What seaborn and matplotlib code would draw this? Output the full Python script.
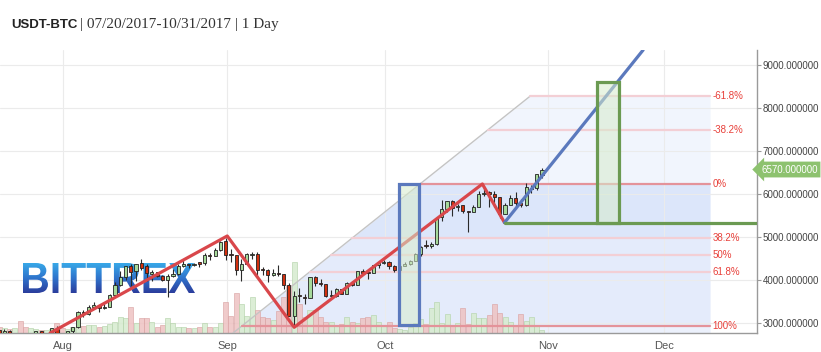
import numpy as np
import pandas as pd
import seaborn as sns
import matplotlib
matplotlib.use('Agg')
import matplotlib.pyplot as plt
from matplotlib.patches import Rectangle, PathPatch
from matplotlib.textpath import TextPath
from matplotlib.font_manager import FontProperties
from matplotlib.transforms import Affine2D, offset_copy
from matplotlib.colors import LinearSegmentedColormap

# daily candles, one per day (first candle = day 0)
opens = [2838, 2668, 2808, 2733, 2757, 2577, 2539, 2680, 2807, 2724, 2763,
         2871, 2727, 2709, 2807, 2898, 3257, 3212, 3370, 3420, 3342, 3374, 3650, 3880, 4067, 4327,
         4201, 4384, 4325, 4137, 4189, 4090, 3998, 4089, 4137, 4332, 4372, 4345, 4384, 4390, 4570, 4555,
         4701, 4901, 4585, 4591, 4229, 4376, 4590, 4605, 4229, 4229, 4122, 4168, 4131, 3875, 3166,
         3637, 3606, 3591, 4073, 3916, 3901, 3628, 3629, 3796, 3681, 3929, 3892, 4211, 4171, 4167,
         4342, 4395, 4408, 4320, 4229, 4324, 4370, 4442, 4615, 4790, 4789, 4830, 5464, 5643, 5836,
         5687, 5742, 5603, 5583, 5709, 5996, 6037, 6006, 5935, 5524, 5747, 5900, 5787, 5755, 6115, 6132,
         6440]
highs = [2838, 2862, 2832, 2777, 2769, 2611, 2693, 2819, 2808, 2758, 2889,
         2921, 2762, 2813, 2897, 3290, 3306, 3428, 3485, 3422, 3453, 3679, 3949, 4208, 4326, 4372,
         4382, 4484, 4372, 4243, 4196, 4109, 4128, 4255, 4371, 4455, 4379, 4400, 4394, 4625, 4626, 4736,
         4900, 4976, 4715, 4591, 4484, 4617, 4655, 4661, 4308, 4245, 4261, 4344, 4131, 3921, 3733,
         3808, 3664, 4079, 4094, 4031, 3916, 3758, 3819, 3796, 3950, 3969, 4210, 4258, 4214, 4358,
         4403, 4470, 4432, 4350, 4362, 4413, 4455, 4627, 4789, 4920, 4873, 5446, 5856, 5837, 5852,
         5776, 5745, 5603, 5744, 6060, 6194, 6076, 6075, 5935, 5798, 5971, 6048, 5887, 6255, 6214, 6470,
         6600]
lows = [2621, 2657, 2653, 2699, 2481, 2450, 2529, 2673, 2692, 2645, 2720,
        2686, 2668, 2700, 2768, 2874, 3147, 3183, 3345, 3247, 3319, 3372, 3613, 3858, 3989, 3856,
        3988, 4243, 3980, 3970, 4069, 3988, 3600, 4078, 4123, 4307, 4269, 4332, 4294, 4352, 4471, 4550,
        4678, 4469, 4410, 4108, 3976, 4376, 4491, 4075, 4114, 3951, 4099, 4085, 3789, 3153, 2946,
        3487, 3445, 3591, 3868, 3857, 3613, 3554, 3594, 3666, 3681, 3869, 3892, 4139, 4030, 4165,
        4269, 4378, 4258, 4180, 4209, 4320, 4350, 4442, 4558, 4745, 4751, 4822, 5380, 5579, 5478,
        5608, 5562, 5109, 5583, 5709, 5949, 5690, 5688, 5452, 5524, 5747, 5722, 5698, 5723, 6030, 6104,
        6378]
closes = [2667, 2810, 2730, 2754, 2576, 2529, 2671, 2809, 2726, 2757, 2875,
          2718, 2711, 2805, 2896, 3252, 3213, 3378, 3419, 3342, 3381, 3651, 3884, 4073, 4326, 4181,
          4377, 4276, 4160, 4193, 4088, 4001, 4101, 4151, 4334, 4371, 4353, 4382, 4382, 4579, 4565, 4703,
          4892, 4578, 4582, 4236, 4376, 4597, 4599, 4229, 4226, 4122, 4161, 4130, 3882, 3155, 3637,
          3625, 3582, 4065, 3924, 3905, 3631, 3630, 3792, 3682, 3926, 3892, 4200, 4174, 4163, 4338,
          4403, 4409, 4318, 4229, 4328, 4371, 4439, 4611, 4773, 4781, 4826, 5446, 5647, 5831, 5679,
          5725, 5605, 5590, 5708, 6011, 6031, 6008, 5930, 5526, 5750, 5904, 5780, 5753, 6153, 6130, 6468,
          6570]
volumes = [6, 5, 4, 5, 12, 6, 5, 4, 3, 3, 4, 10, 5, 4, 6, 7, 7, 8, 8, 6,
           7, 9, 11, 16, 15, 26, 10, 15, 15, 11, 6, 8, 15, 10, 6, 6, 5, 5, 6, 10,
           6, 6, 10, 31, 17, 40, 29, 17, 36, 23, 16, 15, 13, 22, 36, 48, 71, 29, 16, 23,
           23, 16, 11, 11, 8, 9, 16, 11, 10, 15, 16, 18, 11, 8, 11, 5, 4, 3, 6, 10,
           14, 9, 25, 31, 10, 19, 8, 10, 25, 9, 20, 15, 15, 18, 29, 20, 16, 11, 8, 19,
           12, 16, 8, 3]
vol_axis_max = 283

month_ticks = [12.15, 43.3, 73.2, 104.2, 126.1]
month_labels = ['Aug', 'Sep', 'Oct', 'Nov', 'Dec']
price_ticks = [3000, 4000, 5000, 6000, 7000, 8000, 9000]
last_price = 6570

# drawing tools (day, price anchors)
zig_days = [9.7, 43.3, 56.0, 91.7, 95.9]
zig_prices = [2767, 5024, 2900, 6233, 5335]
trend_days = [95.9, 122.2]
trend_prices = [5335, 9350]
support_price = 5335
fib_top, fib_bottom = 6233, 2930
fib_ratios = [-0.618, -0.382, 0, 0.382, 0.5, 0.618, 1]
fib_labels = ['-61.8%', '-38.2%', '0%', '38.2%', '50%', '61.8%', '100%']
diag_days = [44.4, 100.8]
diag_prices = [2767, 8280]
fib_right = 134.9
blue_box_days = [75.9, 79.7]
blue_box_prices = [2953, 6233]
green_box_days = [113.5, 117.6]
green_box_prices = [5335, 8605]

df = pd.DataFrame({'open': opens, 'high': highs, 'low': lows, 'close': closes, 'volume': volumes})
df['day'] = np.arange(len(df))
df['up'] = df['close'] >= df['open']

sns.set_style('white')
plt.rcParams['font.family'] = ['Liberation Sans', 'DejaVu Sans']

fig = plt.figure(figsize=(8.21, 3.52), dpi=100)
ax = fig.add_axes([0, 19 / 352, 757 / 821, 283 / 352])
x_lo, x_hi = 0.19, 143.8
y_lo, y_hi = 2767, 9350
ax.set_xlim(x_lo, x_hi)
ax.set_ylim(y_lo, y_hi)

# fibonacci shaded area
def diag_x(v):
    return diag_days[0] + (v - diag_prices[0]) / (diag_prices[1] - diag_prices[0]) * (diag_days[1] - diag_days[0])

levels = [fib_top - r * (fib_top - fib_bottom) for r in fib_ratios]
bands = [(fib_top, levels[0], '#f1f5fd'), (levels[3], fib_top, '#dce6fa'),
         (fib_bottom, levels[3], '#e4ebfb'), (y_lo, fib_bottom, '#ecf1fc')]
for a, b, c in bands:
    ax.fill_betweenx([a, b], [diag_x(a), diag_x(b)], fib_right, color=c, lw=0, zorder=0.2)
ax.plot(diag_days, diag_prices, color='#c4c4c4', lw=1, zorder=3)

# volume bars
vol_scale = (y_hi - y_lo) / vol_axis_max
ax.bar(df['day'], df['volume'] * vol_scale, bottom=y_lo, width=0.95,
       color=np.where(df['up'], '#d6ebcf', '#eec2c2'),
       edgecolor=np.where(df['up'], '#b3d2a8', '#d9a2a2'), lw=0.5, alpha=0.85, zorder=2)

# fib level lines and labels
for lv, lab, r in zip(levels, fib_labels, fib_ratios):
    strong = r in (0, 1)
    ax.plot([diag_x(lv), fib_right], [lv, lv], color='#e4939a' if strong else '#f3cfd5',
            lw=1.6, zorder=3)
    ax.text(fib_right + 0.4, lv, lab, color='#e8403a', fontsize=7, va='center', ha='left', zorder=6)

# BITTREX watermark with gradient
fp = FontProperties(family='Liberation Sans', weight='bold')
tp = TextPath((0, 0), 'BITTREX', size=40, prop=fp)
ext = tp.get_extents()
logo_tf = (Affine2D().translate(-ext.x0, -ext.y0)
           .scale((195 - 23) / ext.width, (89 - 59) / ext.height).translate(23, 59))
logo_patch = PathPatch(tp, transform=logo_tf, fc='none', ec='none')
inv = ax.transData.inverted()
d0, v0 = inv.transform((23, 59))
d1, v1 = inv.transform((195, 89))
cmap = LinearSegmentedColormap.from_list('bittrex', ['#2b3d9c', '#2f74cc', '#38a8e8'])
im = ax.imshow(np.linspace(0, 1, 64).reshape(-1, 1), extent=(d0, d1, v0, v1), origin='lower',
               cmap=cmap, aspect='auto', interpolation='bilinear', zorder=1.5)
im.set_clip_path(logo_patch)

# candles
body = (df['close'] - df['open']).abs().clip(lower=25)
ax.vlines(df['day'], df['low'], df['high'], color='#2a2a2a', lw=0.8, zorder=4)
ax.bar(df['day'], body, bottom=df[['open', 'close']].min(axis=1), width=0.6,
       color=np.where(df['up'], '#a6d99a', '#d2300f'), edgecolor='#222222', lw=0.6, zorder=4.5)

# drawing tools
sns.lineplot(x=zig_days, y=zig_prices, sort=False, color='#d9474b', lw=2.3, ax=ax, zorder=5)
sns.lineplot(x=trend_days, y=trend_prices, sort=False, color='#5b79bd', lw=2.3, ax=ax, zorder=5)
sns.lineplot(x=[trend_days[0], x_hi], y=[support_price, support_price], sort=False,
             color='#6b9a52', lw=2.3, ax=ax, zorder=5)
for days, prices, ec in [(blue_box_days, blue_box_prices, '#5b79bd'),
                         (green_box_days, green_box_prices, '#6b9a52')]:
    ax.add_patch(Rectangle((days[0], prices[0]), days[1] - days[0], prices[1] - prices[0],
                           fc=(0.84, 0.92, 0.80, 0.55), ec=ec, lw=2.3, zorder=6))

ax.set_xlim(x_lo, x_hi)
ax.set_ylim(y_lo, y_hi)

# axes styling
ax.set_axisbelow(True)
ax.grid(True, color='#ebebeb', lw=0.8)
for s in ['top', 'left']:
    ax.spines[s].set_visible(False)
for s in ['right', 'bottom']:
    ax.spines[s].set_color('#9a9a9a')
    ax.spines[s].set_linewidth(1)
ax.yaxis.tick_right()
ax.set_yticks(price_ticks)
ax.set_yticklabels([f'{p:.6f}' for p in price_ticks])
ax.set_xticks(month_ticks)
ax.set_xticklabels(month_labels)
ax.tick_params(axis='y', length=3, width=0.8, color='#9a9a9a', pad=1, labelsize=7, labelcolor='#444444')
ax.tick_params(axis='x', length=4, width=0.8, color='#9a9a9a', pad=2, labelsize=8, labelcolor='#555555')
ax.set_xlabel('')
ax.set_ylabel('')

# last price tag
ax.text(x_hi, last_price, f'{last_price:.6f}', ha='left', va='center', fontsize=7, color='white',
        transform=offset_copy(ax.transData, fig=fig, x=4, units='dots'),
        bbox=dict(boxstyle='larrow,pad=0.3', fc='#8dc26f', ec='none'), clip_on=False, zorder=10)

# header
t1 = fig.text(11 / 821, 1 - 28 / 352, 'USDT-BTC', fontsize=9.5, fontweight='bold',
              family='Liberation Sans', va='baseline', color='#222222')
fig.canvas.draw()
bb = t1.get_window_extent()
fig.text((bb.x1 + 3) / 821, 1 - 28 / 352, '| 07/20/2017-10/31/2017 | 1 Day', fontsize=11,
         family='Liberation Serif', va='baseline', color='#333333')

fig.savefig('out.png', dpi=100, facecolor='white')
